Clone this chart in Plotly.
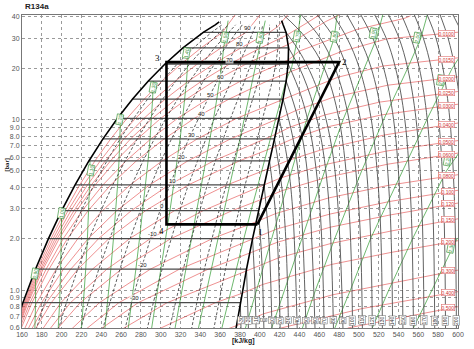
import math
import plotly.graph_objects as go

# ---------------- data ----------------
X_TICKS = [160, 180, 200, 220, 240, 260, 280, 300, 320, 340, 360, 380, 400, 420, 440,
           460, 480, 500, 520, 540, 560, 580, 600]
Y_TICKS = [0.6, 0.7, 0.8, 0.9, 1.0, 2.0, 3.0, 4.0, 5.0, 6.0, 7.0, 8.0, 9.0, 10, 20, 30, 40]
Y_TICKTEXT = ["0.6", "0.7", "0.8", "0.9", "1.0", "2.0", "3.0", "4.0", "5.0", "6.0", "7.0",
              "8.0", "9.0", "10", "20", "30", "40"]

# saturation (two-phase) table
SAT_T = [-40, -30, -20, -10, 0, 10, 20, 30, 40, 50, 60, 70, 80, 90, 95]
SAT_P = [0.512, 0.844, 1.327, 2.006, 2.928, 4.146, 5.717, 7.702, 10.166, 13.179, 16.818,
         21.168, 26.332, 32.442, 35.9]
SAT_HF = [148.4, 160.9, 173.6, 186.7, 200.0, 213.6, 227.5, 241.7, 256.4, 271.6, 287.5,
          304.3, 322.4, 342.9, 355.0]
SAT_HG = [374.0, 380.3, 386.6, 392.7, 398.6, 404.3, 409.8, 414.8, 419.4, 423.4, 426.6,
          428.6, 429.0, 426.5, 423.5]

# saturation dome
LIQ_H = [148.4, 160.9, 173.6, 186.7, 200.0, 213.6, 227.5, 241.7, 256.4, 271.6, 287.5,
         304.3, 322.4, 342.9, 355.0, 359.0]
LIQ_P = [0.512, 0.844, 1.327, 2.006, 2.928, 4.146, 5.717, 7.702, 10.166, 13.179, 16.818,
         21.168, 26.332, 32.442, 35.9, 37.4]
VAP_H = [374.0, 380.3, 386.6, 392.7, 398.6, 404.3, 409.8, 414.8, 419.4, 423.4, 426.6,
         428.6, 429.0, 426.5, 423.5, 422.0]
VAP_P = [0.512, 0.844, 1.327, 2.006, 2.928, 4.146, 5.717, 7.702, 10.166, 13.179, 16.818,
         21.168, 26.332, 32.442, 35.9, 38.0]

# constant quality lines (dashed), h at the SAT_P pressures
Q_X = [0.1, 0.2, 0.3, 0.4, 0.5, 0.6, 0.7, 0.8, 0.9]
Q_H = [
    [171.0, 182.8, 194.9, 207.3, 219.9, 232.7, 245.7, 259.0, 272.7, 286.8, 301.4, 316.7, 333.1, 351.3, 361.9],
    [193.5, 204.8, 216.2, 227.9, 239.7, 251.7, 264.0, 276.3, 289.0, 302.0, 315.3, 329.2, 343.7, 359.6, 368.7],
    [216.1, 226.7, 237.5, 248.5, 259.6, 270.8, 282.2, 293.6, 305.3, 317.1, 329.2, 341.6, 354.4, 368.0, 375.6],
    [238.6, 248.7, 258.8, 269.1, 279.4, 289.9, 300.4, 310.9, 321.6, 332.3, 343.1, 354.0, 365.0, 376.3, 382.4],
    [261.2, 270.6, 280.1, 289.7, 299.3, 309.0, 318.7, 328.3, 337.9, 347.5, 357.1, 366.5, 375.7, 384.7, 389.3],
    [283.8, 292.5, 301.4, 310.3, 319.2, 328.0, 336.9, 345.6, 354.2, 362.7, 371.0, 378.9, 386.4, 393.1, 396.1],
    [306.3, 314.5, 322.7, 330.9, 339.0, 347.1, 355.1, 362.9, 370.5, 377.9, 384.9, 391.3, 397.0, 401.4, 403.0],
    [328.9, 336.4, 344.0, 351.5, 358.9, 366.2, 373.3, 380.2, 386.8, 393.0, 398.8, 403.7, 407.7, 409.8, 409.8],
    [351.4, 358.4, 365.3, 372.1, 378.7, 385.2, 391.6, 397.5, 403.1, 408.2, 412.7, 416.2, 418.3, 418.1, 416.7],
]

# isotherms in superheated vapour (start at saturated vapour / top, end at bottom)
SH_T = [-30, -20, -10, 0, 10, 20, 30, 40, 50, 60, 70, 80, 90, 100, 110, 120, 130, 140, 150,
        160, 170, 180, 190, 200, 210, 220]
SH_P = [
    [0.844, 0.6], [1.327, 0.6], [2.006, 1.0, 0.6], [2.928, 1.5, 0.6], [4.146, 2.0, 1.0, 0.6],
    [5.717, 3.0, 1.5, 0.6], [7.702, 4.0, 2.0, 0.6], [10.166, 6.0, 3.0, 0.6], [13.179, 8.0, 4.0, 0.6],
    [16.818, 10.0, 5.0, 0.6], [21.168, 14.0, 8.0, 3.0, 0.6], [26.332, 18.0, 10.0, 4.0, 0.6],
    [32.442, 24.0, 15.0, 6.0, 0.6],
    [41, 30, 20, 10, 3, 0.6], [41, 30, 20, 10, 3, 0.6], [41, 30, 20, 10, 3, 0.6],
    [41, 30, 20, 10, 3, 0.6], [41, 30, 20, 10, 3, 0.6], [41, 30, 20, 10, 3, 0.6],
    [41, 30, 20, 10, 3, 0.6], [41, 30, 20, 10, 3, 0.6], [41, 30, 20, 10, 3, 0.6],
    [41, 30, 20, 10, 3, 0.6], [41, 30, 20, 10, 3, 0.6], [41, 30, 20, 14], [41, 35],
]
SH_H = [
    [380.3, 381.0], [386.6, 388.5], [392.7, 395.2, 396.2], [398.6, 402.0, 404.1],
    [404.3, 409.1, 411.3, 412.2], [409.8, 415.5, 418.7, 420.5], [414.8, 422.2, 426.2, 429.0],
    [419.4, 427.4, 433.1, 437.7], [423.4, 433.0, 440.3, 446.6], [426.6, 438.8, 447.8, 455.7],
    [428.6, 441.2, 451.8, 460.7, 464.9], [429.0, 443.7, 457.8, 468.4, 474.3],
    [426.5, 441.8, 458.0, 474.2, 483.9],
    [424.0, 446.7, 465.0, 480.0, 490.0, 493.6], [442.0, 461.0, 476.0, 490.0, 500.0, 503.5],
    [458.0, 475.0, 488.0, 501.5, 510.5, 513.5], [474.0, 488.0, 500.5, 512.5, 521.0, 523.7],
    [488.0, 500.5, 512.5, 523.7, 531.4, 534.0], [502.0, 514.0, 525.0, 535.0, 542.0, 544.4],
    [516.0, 527.5, 537.0, 546.3, 552.7, 555.0], [530.0, 540.5, 549.2, 557.7, 563.6, 565.7],
    [543.0, 552.5, 561.0, 569.0, 574.6, 576.5], [556.0, 565.0, 573.0, 580.5, 585.7, 587.4],
    [569.0, 577.8, 584.8, 591.8, 596.7, 598.4], [582.0, 590.0, 597.0, 601.0], [595.0, 601.0],
]

# isochores (specific volume, m3/kg)
V_VAL = [0.002, 0.003, 0.004, 0.005, 0.006, 0.008, 0.010, 0.015, 0.020, 0.025, 0.030, 0.040,
         0.050, 0.060, 0.080, 0.10, 0.12, 0.15, 0.20, 0.30, 0.40, 0.50]
V_H = [
    [149.2, 162.2, 175.4, 189.3, 203.6, 218.3, 233.6, 249.5, 266.0, 283.3, 301.5, 320.6, 340.9, 362.2, 375.0],
    [149.9, 163.1, 176.9, 191.4, 206.5, 222.3, 238.9, 256.2, 274.6, 294.0, 314.8, 337.0, 361.0, 386.1, 400.0],
    [150.5, 164.1, 178.4, 193.5, 209.4, 226.2, 244.0, 262.9, 283.1, 304.6, 328.1, 353.4, 381.1, 409.8, 418.0, 428.0],
    [151.1, 165.1, 179.8, 195.5, 212.5, 230.1, 249.2, 269.6, 291.6, 315.3, 341.4, 369.6, 400.9, 427.0, 448.0, 460.0],
    [151.8, 166.1, 181.3, 197.6, 215.1, 234.0, 254.5, 276.6, 300.0, 326.1, 354.1, 386.1, 421.0, 428.5, 444.7, 466.0, 480.0],
    [153.0, 168.0, 184.3, 201.7, 220.9, 241.8, 264.9, 290.0, 317.0, 347.5, 380.7, 418.8, 428.7, 440.0, 475.0, 497.7, 546.0, 552.0],
    [154.3, 170.0, 187.2, 205.9, 226.8, 249.7, 275.3, 303.5, 334.0, 368.9, 407.4, 427.5, 440.0, 481.9, 528.2, 600.0],
    [157.5, 174.8, 194.5, 216.4, 241.3, 269.3, 301.3, 336.9, 376.7, 423.4, 440.5, 478.8, 524.4, 600.0],
    [160.6, 179.7, 201.8, 226.8, 255.8, 288.9, 327.2, 370.5, 419.4, 436.5, 473.2, 529.1, 600.0],
    [163.8, 184.6, 209.1, 237.3, 270.4, 308.6, 353.2, 404.1, 415.8, 431.0, 465.8, 520.8, 600.0],
    [167.0, 189.5, 216.4, 247.7, 284.9, 328.2, 379.2, 412.8, 433.5, 468.7, 523.0, 600.0],
    [173.3, 199.2, 231.0, 268.6, 314.0, 367.4, 407.9, 427.9, 463.6, 525.8, 600.0],
    [179.6, 208.9, 245.6, 289.5, 343.0, 404.2, 421.1, 465.8, 527.5, 600.0],
    [186.0, 218.7, 260.3, 310.3, 372.2, 401.0, 422.5, 467.3, 528.7, 600.0],
    [198.6, 238.1, 289.5, 352.1, 396.2, 415.9, 469.3, 530.2, 600.0],
    [211.3, 257.7, 318.8, 392.6, 417.0, 470.5, 531.1, 600.0],
    [224.0, 277.2, 348.0, 389.7, 417.8, 471.3, 531.7, 600.0],
    [242.9, 306.4, 386.2, 418.6, 472.1, 532.3, 600.0],
    [274.6, 355.1, 382.1, 403.0, 472.9, 532.9, 600.0],
    [337.9, 376.4, 403.8, 473.7, 600.0],
    [421.3, 503.3, 600.0],
    [488.7, 600.0],
]
V_P = [
    [0.512, 0.844, 1.327, 2.006, 2.928, 4.146, 5.717, 7.702, 10.166, 13.179, 16.818, 21.168, 26.332, 32.442, 41.0],
    [0.512, 0.844, 1.327, 2.006, 2.928, 4.146, 5.717, 7.702, 10.166, 13.179, 16.818, 21.168, 26.332, 32.442, 41.0],
    [0.512, 0.844, 1.327, 2.006, 2.928, 4.146, 5.717, 7.702, 10.166, 13.179, 16.818, 21.168, 26.332, 32.442, 35.0, 41.0],
    [0.512, 0.844, 1.327, 2.006, 2.928, 4.146, 5.717, 7.702, 10.166, 13.179, 16.818, 21.168, 26.332, 31.2, 37.0, 41.0],
    [0.512, 0.844, 1.327, 2.006, 2.928, 4.146, 5.717, 7.702, 10.166, 13.179, 16.818, 21.168, 26.332, 27.5, 31.4, 37.4, 41.0],
    [0.512, 0.844, 1.327, 2.006, 2.928, 4.146, 5.717, 7.702, 10.166, 13.179, 16.818, 21.168, 22.33, 25.2, 30.0, 33.7, 39.2, 40.5],
    [0.512, 0.844, 1.327, 2.006, 2.928, 4.146, 5.717, 7.702, 10.166, 13.179, 16.818, 18.72, 20.1, 25.0, 29.7, 32.5],
    [0.512, 0.844, 1.327, 2.006, 2.928, 4.146, 5.717, 7.702, 10.166, 13.2, 14.4, 17.7, 20.6, 23.0],
    [0.512, 0.844, 1.327, 2.006, 2.928, 4.146, 5.717, 7.702, 10.17, 11.3, 13.45, 15.9, 17.8],
    [0.512, 0.844, 1.327, 2.006, 2.928, 4.146, 5.717, 7.702, 8.18, 9.05, 10.65, 12.65, 14.6],
    [0.512, 0.844, 1.327, 2.006, 2.928, 4.146, 5.717, 6.83, 7.72, 9.07, 10.65, 12.3],
    [0.512, 0.844, 1.327, 2.006, 2.928, 4.146, 5.13, 5.74, 6.69, 8.12, 9.54],
    [0.512, 0.844, 1.327, 2.006, 2.928, 4.12, 4.55, 5.44, 6.53, 7.53],
    [0.512, 0.844, 1.327, 2.006, 2.928, 3.39, 3.83, 4.58, 5.47, 6.36],
    [0.512, 0.844, 1.327, 2.006, 2.514, 2.81, 3.47, 4.12, 4.75],
    [0.512, 0.844, 1.327, 1.99, 2.28, 2.79, 3.31, 3.85],
    [0.512, 0.844, 1.327, 1.641, 1.91, 2.34, 2.76, 3.24],
    [0.512, 0.844, 1.294, 1.544, 1.88, 2.22, 2.62],
    [0.512, 0.844, 0.958, 1.08, 1.417, 1.666, 1.95],
    [0.512, 0.619, 0.727, 0.94, 1.31],
    [0.6, 0.78, 0.98],
    [0.6, 0.80],
]
V_LBL = ["0.0100", "0.0150", "0.0200", "0.0250", "0.0300", "0.0400", "0.0500", "0.0600",
         "0.0800", "0.100", "0.120", "0.150", "0.200", "0.300", "0.400", "0.500"]
V_LBL_P = [32.0, 22.6, 17.5, 14.4, 12.1, 9.4, 7.4, 6.25, 4.68, 3.8, 3.2, 2.59, 1.93, 1.30, 0.975, 0.795]

# isentropes (kJ/kgK)
S_VAL = [0.9, 1.0, 1.1, 1.2, 1.3, 1.4, 1.5, 1.6, 1.7, 1.8, 1.9, 2.0, 2.1, 2.2, 2.3]
S_H = [
    [172.7, 173.7, 173.6],
    [195.9, 198.0, 199.0, 199.7, 200.0],
    [219.2, 222.2, 224.3, 226.0, 227.3, 228.2, 228.6],
    [242.5, 246.5, 249.6, 252.3, 254.6, 256.5, 257.9, 258.8, 259.4],
    [265.7, 270.8, 274.9, 278.6, 281.9, 284.8, 287.2, 289.2, 290.7, 291.8, 292.5],
    [289.0, 295.0, 300.2, 304.9, 309.3, 313.1, 316.6, 319.5, 322.1, 324.2, 326.0, 327.2, 327.8],
    [312.3, 319.3, 325.6, 331.3, 336.6, 341.4, 345.9, 349.7, 353.4, 356.6, 359.4, 361.8, 363.5, 366.0, 368.0],
    [335.5, 343.5, 350.9, 357.6, 363.9, 369.7, 375.2, 380.0, 384.8, 389.0, 392.9, 396.4, 399.8, 403.5, 405.5],
    [358.8, 367.8, 376.2, 383.9, 391.2, 398.1, 404.5, 410.5, 416.1, 421.4, 426.8, 432.0, 438.0, 441.0],
    [385.5, 396.8, 411.7, 432.5, 447.3, 465.0, 475.0, 478.0],
    [412.0, 424.8, 441.8, 465.5, 484.1, 505.9, 518.0, 524.0],
    [443.0, 456.2, 475.5, 502.8, 525.0, 549.2, 562.5, 569.0],
    [475.7, 491.4, 511.7, 543.7, 568.6, 594.2, 601.0],
    [513.5, 530.1, 554.1, 588.3, 602.0],
    [555.0, 573.4, 599.0, 602.0],
]
S_P = [
    [0.512, 0.844, 1.327],
    [0.512, 0.844, 1.327, 2.006, 2.928],
    [0.512, 0.844, 1.327, 2.006, 2.928, 4.146, 5.717],
    [0.512, 0.844, 1.327, 2.006, 2.928, 4.146, 5.717, 7.702, 10.166],
    [0.512, 0.844, 1.327, 2.006, 2.928, 4.146, 5.717, 7.702, 10.166, 13.179, 16.818],
    [0.512, 0.844, 1.327, 2.006, 2.928, 4.146, 5.717, 7.702, 10.166, 13.179, 16.818, 21.168, 26.332],
    [0.512, 0.844, 1.327, 2.006, 2.928, 4.146, 5.717, 7.702, 10.166, 13.179, 16.818, 21.168, 26.332, 32.442, 38.0],
    [0.512, 0.844, 1.327, 2.006, 2.928, 4.146, 5.717, 7.702, 10.166, 13.179, 16.818, 21.168, 26.332, 32.442, 38.0],
    [0.512, 0.844, 1.327, 2.006, 2.928, 4.146, 5.717, 7.702, 10.166, 13.179, 17.2, 20.0, 30.0, 41.0],
    [0.6, 1, 2, 5, 10, 20, 30, 41],
    [0.6, 1, 2, 5, 10, 20, 30, 41],
    [0.6, 1, 2, 5, 10, 20, 30, 41],
    [0.6, 1, 2, 5, 10, 20, 23],
    [0.6, 1, 2, 5, 6.5],
    [0.6, 1, 2, 2.05],
]
S_LBL = ["0.90", "1.00", "1.10", "1.20", "1.30", "1.40", "1.50", "1.60", "1.70", "1.80",
         "1.90", "2.00", "2.10", "2.20", "2.30"]
S_LBL_H = [172.9, 199.6, 229.3, 259.0, 292.0, 326.3, 365.0, 400.6, 437.2, 474.8, 514.4, 559.0, 582.7, 588.7, 592.6]
S_LBL_P = [1.256, 2.82, 5.05, 9.94, 15.5, 24.6, 30.1, 30.1, 30.8, 30.8, 31.9, 30.1, 17.1, 5.79, 1.78]

# isotherm labels inside the dome
TL_T = [90, 80, 70, 60, 50, 40, 30, 20, 10, 0, -10, -20, -30]
TL_H = [387.7, 379.8, 369.9, 360.0, 350.1, 341.2, 331.3, 321.4, 311.5, 301.6, 291.7, 281.8, 273.9]
TL_P = [34.4, 27.9, 22.4, 17.8, 14.0, 10.8, 8.16, 6.06, 4.39, 3.10, 2.13, 1.41, 0.895]

# refrigeration cycle 1-2-3-4
CYCLE_H = [397.6, 480.0, 305.8, 305.8, 397.6]
CYCLE_P = [2.43, 21.7, 21.7, 2.43, 2.43]
CYC_LBL = ["1", "2", "3", "4"]
CYC_LBL_H = [401.0, 485.5, 297.0, 301.0]
CYC_LBL_P = [2.19, 21.8, 23.0, 2.21]

# ---------------- figure ----------------
fig = go.Figure()

RED = "rgba(226,70,70,0.75)"
GREEN = "rgba(40,150,40,0.85)"
DARK = "#505050"

for hh, pp in zip(V_H, V_P):
    fig.add_trace(go.Scatter(x=hh, y=pp, mode="lines", line=dict(color=RED, width=0.8),
                             hoverinfo="skip", showlegend=False))

for hh, pp in zip(S_H, S_P):
    fig.add_trace(go.Scatter(x=hh, y=pp, mode="lines", line=dict(color=GREEN, width=0.8),
                             hoverinfo="skip", showlegend=False))

for hh in Q_H:
    fig.add_trace(go.Scatter(x=hh, y=SAT_P, mode="lines",
                             line=dict(color="#333333", width=0.8, dash="3px,2px"),
                             hoverinfo="skip", showlegend=False))

for hh, pp in zip(SH_H, SH_P):
    fig.add_trace(go.Scatter(x=hh, y=pp, mode="lines", line=dict(color=DARK, width=0.9, shape="spline"),
                             hoverinfo="skip", showlegend=False))

# horizontal isotherms in the two-phase region
hx, py = [], []
for t, p, hf, hg in zip(SAT_T, SAT_P, SAT_HF, SAT_HG):
    if -30 <= t <= 90:
        hx += [hf, hg, None]
        py += [p, p, None]
fig.add_trace(go.Scatter(x=hx, y=py, mode="lines", line=dict(color="#4a4a4a", width=1.3),
                         hoverinfo="skip", showlegend=False))

# dome
fig.add_trace(go.Scatter(x=LIQ_H, y=LIQ_P, mode="lines", line=dict(color="black", width=1.6),
                         hoverinfo="skip", showlegend=False))
fig.add_trace(go.Scatter(x=VAP_H, y=VAP_P, mode="lines", line=dict(color="black", width=1.6),
                         hoverinfo="skip", showlegend=False))

# cycle
fig.add_trace(go.Scatter(x=CYCLE_H, y=CYCLE_P, mode="lines", line=dict(color="black", width=2.6),
                         hoverinfo="skip", showlegend=False))

ann = []
for t, h, p in zip(TL_T, TL_H, TL_P):
    ann.append(dict(x=h, y=math.log10(p), text=str(t), showarrow=False,
                    font=dict(size=6, color="#222", family="Arial"), bgcolor="rgba(255,255,255,0.7)",
                    borderpad=0))
for txt, h, p in zip(S_LBL, S_LBL_H, S_LBL_P):
    ann.append(dict(x=h, y=math.log10(p), text=txt, showarrow=False, textangle=-80,
                    font=dict(size=5, color="#2a8a2a", family="Arial"), bgcolor="white",
                    bordercolor="#2a8a2a", borderwidth=0.6, borderpad=0))
for txt, p in zip(V_LBL, V_LBL_P):
    ann.append(dict(x=597, y=math.log10(p), text=txt, showarrow=False, xanchor="right",
                    font=dict(size=5, color="#d03030", family="Arial"), bgcolor="white",
                    bordercolor="#e07070", borderwidth=0.6, borderpad=0))
for t, hh in zip(SH_T, SH_H):
    if t <= 200:
        ann.append(dict(x=hh[-1] - 0.3, y=math.log10(0.665), text=str(t), showarrow=False,
                        textangle=-90, font=dict(size=5, color="#333", family="Arial"),
                        bgcolor="white", bordercolor="#666", borderwidth=0.5, borderpad=0))
for txt, h, p in zip(CYC_LBL, CYC_LBL_H, CYC_LBL_P):
    ann.append(dict(x=h, y=math.log10(p), text=txt, showarrow=False,
                    font=dict(size=9, color="black", family="Liberation Serif")))

ann.append(dict(xref="paper", yref="paper", x=0.002, y=1.027, xanchor="left", yanchor="middle",
                text="<b>R134a</b>", showarrow=False, font=dict(size=8, color="#222", family="Arial")))
ann.append(dict(xref="paper", yref="paper", x=-0.045, y=0.52, xanchor="left", text="<b>[bar]</b>",
                textangle=-90, showarrow=False, font=dict(size=6, color="#222", family="Arial")))
ann.append(dict(xref="paper", yref="paper", x=0.507, y=-0.04, yanchor="middle", text="<b>[kJ/kg]</b>",
                showarrow=False, font=dict(size=7, color="#222", family="Arial")))

fig.update_layout(
    width=474, height=349,
    margin=dict(l=20, r=10, t=15, b=21),
    paper_bgcolor="white", plot_bgcolor="white",
    annotations=ann,
    xaxis=dict(range=[160, 600], tickvals=X_TICKS, showgrid=True, gridcolor="#9a9a9a",
               griddash="dot", gridwidth=0.8, zeroline=False, showline=True, mirror=True,
               linecolor="#777", linewidth=1, ticks="",
               tickfont=dict(size=7, color="#555", family="Arial")),
    yaxis=dict(type="log", range=[math.log10(0.6), math.log10(41)], tickvals=Y_TICKS,
               ticktext=Y_TICKTEXT, showgrid=True, gridcolor="#9a9a9a", griddash="dot",
               gridwidth=0.8, zeroline=False, showline=True, mirror=True, linecolor="#777",
               linewidth=1, ticks="", tickfont=dict(size=7, color="#555", family="Arial")),
)

fig.write_html("out.html")
